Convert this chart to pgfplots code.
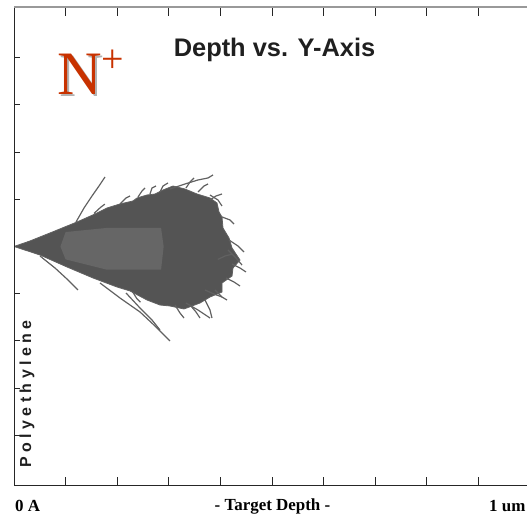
\documentclass[border=0pt]{standalone}
\usepackage{pgfplots}
\pgfplotsset{compat=1.18}
\usepackage{fontspec}
\setmainfont{Liberation Serif}
\setsansfont{Liberation Sans}
\newfontfamily\polyfont[LetterSpace=28]{Liberation Sans}
\definecolor{nred}{HTML}{C83200}
\definecolor{blob}{gray}{0.33}
\definecolor{blobin}{gray}{0.40}
\definecolor{strand}{gray}{0.38}
\begin{document}
\begin{tikzpicture}[x=1bp,y=1bp]
\useasboundingbox (0,0) rectangle (527,520);
\clip (0,0) rectangle (527,520);
\begin{axis}[at={(14bp,34bp)}, anchor=south west, scale only axis,
  width=516bp, height=479bp,
  xmin=0, xmax=10000, ymin=-4641, ymax=4641,
  axis line style={draw=none},
  xtick={1000,2000,3000,4000,5000,6000,7000,8000,9000}, xticklabels={},
  scaled x ticks=false,
  ytick=\empty, xtick pos=both,
  major tick length=9bp, tick style={black!85, line width=0.9bp},
  no markers]
% envelope of the ion cascade
\addplot[fill=blob, draw=strand, line width=0.8bp] coordinates {
(0,0) (310,107) (698,262) (1221,475) (1570,630) (1802,746) (2054,824) (2306,882)
(2384,940) (2578,998) (2733,1017) (2888,1095) (3081,1172) (3314,1114) (3547,1017)
(3798,940) (3934,843) (3973,669) (4031,572) (4050,359) (4167,165) (4225,-29)
(4380,-262) (4244,-417) (4225,-572) (4031,-707) (4031,-882) (3798,-979) (3605,-1095)
(3295,-1211) (3023,-1153) (2829,-1134) (2578,-1037) (2248,-862) (1996,-785)
(1531,-610) (1027,-397) (504,-165) (0,0)} -- cycle;
% lighter inner area
\addplot[fill=blobin, draw=none] coordinates {
(1000,280) (1800,360) (2850,360) (2900,0) (2850,-450) (1800,-450) (1000,-250) (900,0)} -- cycle;
% individual trajectories leaving the cascade
\addplot[strand, line width=1.2bp] coordinates {(1202,475) (1357,746) (1512,979) (1647,1172) (1764,1347)};
\addplot[strand, line width=1.2bp] coordinates {(3023,1114) (3314,1211) (3566,1289) (3760,1328) (3857,1386)};
\addplot[strand, line width=1.2bp] coordinates {(504,-184) (795,-417) (1047,-649) (1240,-843)};
\addplot[strand, line width=1.2bp] coordinates {(1667,-707) (2054,-998) (2442,-1269) (2733,-1541) (3023,-1831)};
\addplot[strand, line width=1.2bp] coordinates {(2171,-901) (2442,-1192) (2674,-1424) (2829,-1618)};
\addplot[strand, line width=1.2bp] coordinates {(3333,-1095) (3566,-1231) (3798,-1386)};
\addplot[strand, line width=1.2bp] coordinates {(3702,-843) (3876,-921) (4031,-979)};
\addplot[strand, line width=1.2bp] coordinates {(4147,-68) (4302,-223) (4419,-359)};
\addplot[strand, line width=1.2bp] coordinates {(3798,998) (3953,901) (4031,785)};
\addplot[strand, line width=1.2bp] coordinates {(2829,1056) (2888,1172) (2984,1231)};
% short hairs along the edge
\addplot[strand, line width=1.2bp] coordinates {(4031,572) (4186,514) (4264,436)};
\addplot[strand, line width=1.2bp] coordinates {(4167,126) (4341,10) (4457,-107)};
\addplot[strand, line width=1.2bp] coordinates {(4225,-339) (4380,-417) (4496,-494)};
\addplot[strand, line width=1.2bp] coordinates {(4109,-610) (4264,-688) (4380,-766)};
\addplot[strand, line width=1.2bp] coordinates {(3895,-843) (4031,-979) (4128,-1037)};
\addplot[strand, line width=1.2bp] coordinates {(3702,-1037) (3798,-1231) (3837,-1386)};
\addplot[strand, line width=1.2bp] coordinates {(3411,-1134) (3527,-1269) (3605,-1386)};
\addplot[strand, line width=1.2bp] coordinates {(3120,-1134) (3217,-1289) (3295,-1386)};
\addplot[strand, line width=1.2bp] coordinates {(3798,901) (3915,979) (4031,1017)};
\addplot[strand, line width=1.2bp] coordinates {(3566,1056) (3682,1172) (3760,1211)};
\addplot[strand, line width=1.2bp] coordinates {(3333,1134) (3411,1250) (3488,1328)};
\addplot[strand, line width=1.2bp] coordinates {(2636,1017) (2674,1134) (2752,1172)};
\addplot[strand, line width=1.2bp] coordinates {(2054,824) (2171,940) (2248,979)};
\addplot[strand, line width=1.2bp] coordinates {(2403,959) (2481,1076) (2539,1134)};
\addplot[strand, line width=1.2bp] coordinates {(1550,640) (1680,760) (1760,820)};
\addplot[strand, line width=1.2bp] coordinates {(2300,-880) (2380,-1010) (2450,-1080)};
\addplot[strand, line width=1.2bp] coordinates {(3950,-250) (4100,-180) (4230,-150)};
% frame
\draw[black!85, line width=2.5bp] (rel axis cs:0,0) -- (rel axis cs:0,1);
\draw[black!85, line width=2bp] (rel axis cs:0,0) -- (rel axis cs:1,0);
\draw[gray!70, line width=1.2bp] ([yshift=-3bp]rel axis cs:0,0) -- ([yshift=-3bp]rel axis cs:1,0);
\draw[gray!80, line width=1.8bp] (rel axis cs:0,1) -- (rel axis cs:1,1);
\pgfplotsinvokeforeach{-3660,-2745,-1830,-915,915,1830,2745,3660}{
  \draw[black!85, line width=0.9bp] (axis cs:0,#1) -- ([xshift=6bp]axis cs:0,#1);
}
\end{axis}
% labels
\node[font=\sffamily\bfseries\fontsize{25.5}{28}\selectfont, text=black!88] at (274.5,470) {Depth vs. Y-Axis};
\node[anchor=base west, font=\fontsize{62}{62}\selectfont, inner sep=0] at (57,425)
  {\makebox[0pt][l]{\hspace{2bp}\raisebox{-2bp}{\color{gray!60}N}}\textcolor{nred}{N}\raisebox{22bp}{\fontsize{40}{40}\selectfont\textcolor{nred}{+}}};
\node[rotate=90, font=\polyfont\bfseries\fontsize{16}{18}\selectfont, text=black!88] at (27,126) {Polyethylene};
\node[anchor=west, font=\bfseries\fontsize{17}{18}\selectfont, inner sep=0] at (15,14) {0 A};
\node[font=\bfseries\fontsize{17}{18}\selectfont, inner sep=0] at (272.5,14) {- Target Depth -};
\node[anchor=west, font=\bfseries\fontsize{17}{18}\selectfont, inner sep=0] at (489,14) {1 um};
\end{tikzpicture}
\end{document}
